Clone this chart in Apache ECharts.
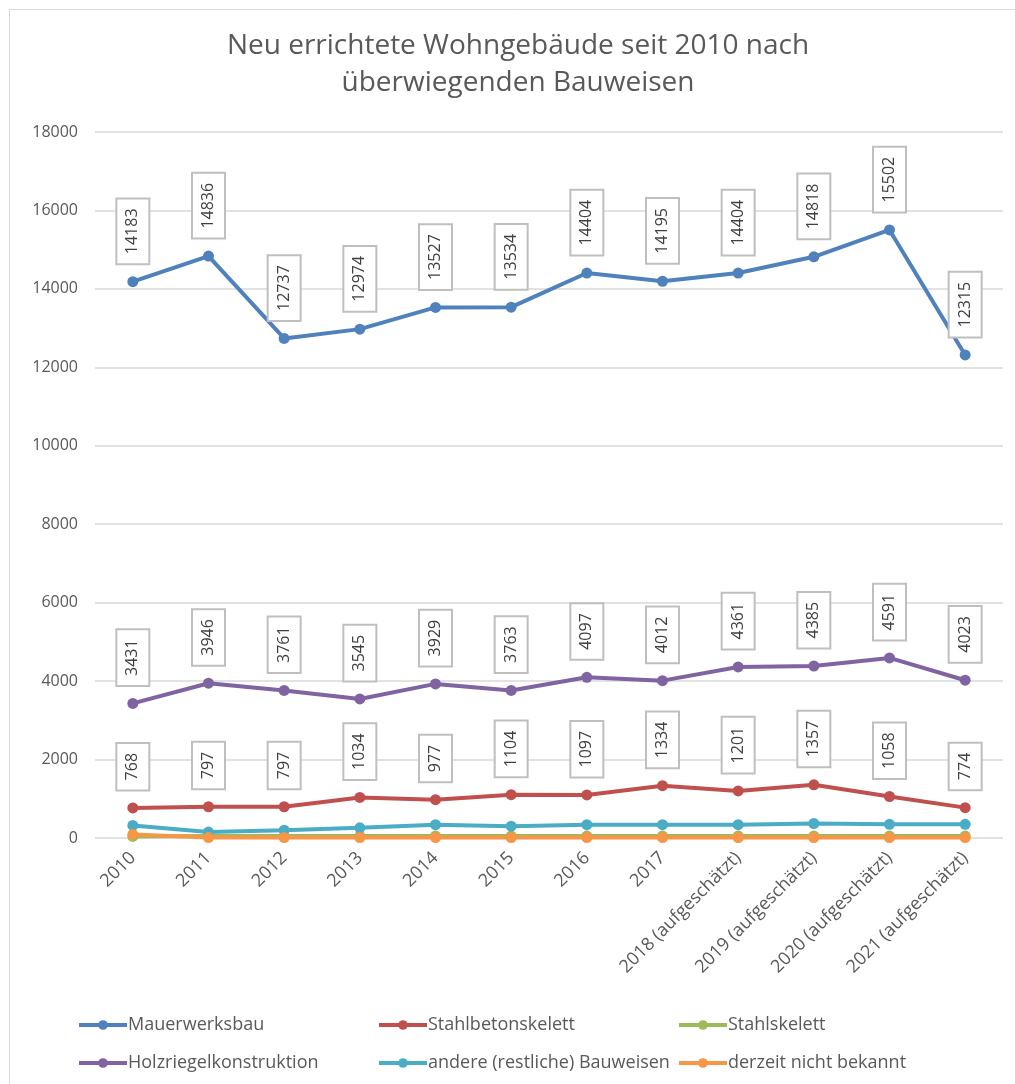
<!DOCTYPE html>
<html><head><meta charset="utf-8">
<script src="https://cdn.jsdelivr.net/npm/echarts@6/dist/echarts.min.js"></script>
<style>html,body{margin:0;padding:0;background:#fff}#c{width:1015px;height:1084px}</style>
</head><body><div id="c"></div>
<script>
const titleText = 'Neu errichtete Wohngebäude seit 2010 nach\nüberwiegenden Bauweisen';
const categories = ['2010','2011','2012','2013','2014','2015','2016','2017','2018 (aufgeschätzt)','2019 (aufgeschätzt)','2020 (aufgeschätzt)','2021 (aufgeschätzt)'];
const mauerwerksbau = [14183,14836,12737,12974,13527,13534,14404,14195,14404,14818,15502,12315];
const stahlbetonskelett = [768,797,797,1034,977,1104,1097,1334,1201,1357,1058,774];
const stahlskelett = [40,50,50,50,50,50,50,50,50,50,50,50];
const holzriegel = [3431,3946,3761,3545,3929,3763,4097,4012,4361,4385,4591,4023];
const andere = [320,150,200,260,340,300,340,340,340,370,350,350];
const unbekannt = [90,10,10,10,10,10,10,10,10,10,10,10];
const yTicks = [0,2000,4000,6000,8000,10000,12000,14000,16000,18000];

const FONT = '"Open Sans", sans-serif';
const labelCfg = {
  show: true, position: 'top', rotate: 90, align: 'left', verticalAlign: 'middle',
  distance: 13, fontFamily: FONT, fontSize: 16, color: '#404040',
  backgroundColor: '#fff', borderColor: '#bfbfbf', borderWidth: 2,
  padding: [6, 9, 6, 9], lineHeight: 19
};
function mk(name, data, color, withLabel, z) {
  return {
    name, type: 'line', data, z: z,
    symbol: 'circle', symbolSize: 11,
    lineStyle: { color, width: 4 },
    itemStyle: { color },
    label: withLabel ? labelCfg : { show: false },
    emphasis: { disabled: true },
    animation: false
  };
}
const chart = echarts.init(document.getElementById('c'), null, { renderer: 'canvas' });
const legendPos = [
  ['Mauerwerksbau', 72, 1011], ['Stahlbetonskelett', 372, 1011], ['Stahlskelett', 672, 1011],
  ['Holzriegelkonstruktion', 72, 1049], ['andere (restliche) Bauweisen', 372, 1049], ['derzeit nicht bekannt', 672, 1049]
];
chart.setOption({
  animation: false,
  graphic: [
    { type: 'rect', shape: { x: 9.5, y: 9.5, width: 1100, height: 1100 }, style: { fill: 'none', stroke: '#d9d9d9', lineWidth: 1 }, silent: true },
    { type: 'text', x: 518, y: 28, silent: true,
      style: { text: titleText, align: 'center', verticalAlign: 'top', fill: '#595959',
        font: '28px "Open Sans", sans-serif', lineHeight: 37 } }
  ],
  legend: legendPos.map(([n, l, t]) => ({
    data: [n], left: l, top: t, itemWidth: 48, itemHeight: 12, itemGap: 0,
    lineStyle: { width: 4 },
    textStyle: { fontFamily: FONT, fontSize: 18, color: '#595959', padding: [0, 0, 0, -4] },
    selectedMode: false
  })),
  grid: { left: 95, right: 12, top: 132, bottom: 246, containLabel: false },
  xAxis: {
    type: 'category', data: categories, boundaryGap: true,
    axisLine: { show: false }, axisTick: { show: false },
    axisLabel: { rotate: 45, fontFamily: FONT, fontSize: 18, color: '#595959', margin: 17, interval: 0 }
  },
  yAxis: {
    type: 'value', min: 0, max: 18000, interval: 2000,
    axisLine: { show: false }, axisTick: { show: false },
    axisLabel: { fontFamily: FONT, fontSize: 16, color: '#595959', margin: 17,
      formatter: v => yTicks.includes(v) ? String(v) : '' },
    splitLine: { lineStyle: { color: '#d9d9d9', width: 1.5 } }
  },
  series: [
    mk('Mauerwerksbau', mauerwerksbau, '#4F81BD', true, 6),
    mk('Stahlbetonskelett', stahlbetonskelett, '#C0504D', true, 5),
    mk('Stahlskelett', stahlskelett, '#9BBB59', false, 2),
    mk('Holzriegelkonstruktion', holzriegel, '#8064A2', true, 4),
    mk('andere (restliche) Bauweisen', andere, '#4BACC6', false, 3),
    mk('derzeit nicht bekannt', unbekannt, '#F79646', false, 3)
  ]
});
</script></body></html>
